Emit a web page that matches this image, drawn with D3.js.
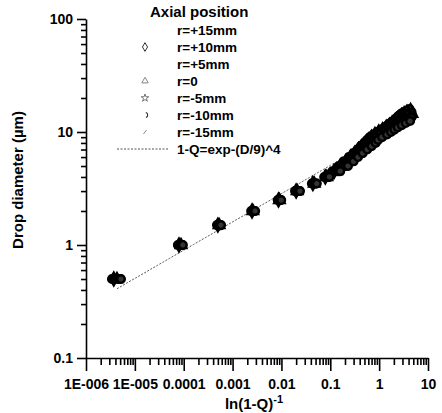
<!DOCTYPE html>
<html>
<head>
<meta charset="utf-8">
<script src="https://cdn.jsdelivr.net/npm/d3@7"></script>
<style>
    body { margin: 0; background: #fff; }
    text { font-family: Arial, "Liberation Sans", Helvetica, sans-serif; font-weight: bold; fill: #000; }
</style>
</head>
<body>
<div id="chart"></div>
<script>
// Drop diameter classes (um)
var sizeD = [0.5, 1, 1.5, 2, 2.5, 3, 3.5, 4, 4.5, 5, 5.5, 6, 6.5, 7, 7.5, 8, 8.5, 9, 9.5, 10,
             10.5, 11, 11.5, 12, 12.5, 13, 13.5, 14, 14.5, 15, 15.5, 16];

// ln(1-Q)^-1 for each radial position
var rP15 = [3.4e-6, 7.6e-5, 4.8e-4, 2.4e-3, 8.4e-3, 0.019, 0.042, 0.075,
            0.11, 0.15, 0.19, 0.24, 0.30, 0.36, 0.42, 0.49, 0.56, 0.64, 0.76, 0.92,
            1.1, 1.3, 1.5, 1.7, 1.95, 2.15, 2.35, 2.55, 2.8, 3.2, 3.7, 4.2];
var rP10 = [3.7e-6, 8.0e-5, 5.0e-4, 2.5e-3, 8.7e-3, 0.020, 0.044, 0.079,
            0.12, 0.16, 0.21, 0.26, 0.32, 0.38, 0.45, 0.53, 0.61, 0.70, 0.82, 0.98,
            1.18, 1.4, 1.62, 1.85, 2.1, 2.35, 2.6, 2.9, 3.25, 3.7, 4.4];
var rP5  = [4.0e-6, 8.4e-5, 5.1e-4, 2.6e-3, 8.9e-3, 0.021, 0.046, 0.082,
            0.13, 0.175, 0.225, 0.28, 0.34, 0.41, 0.49, 0.57, 0.66, 0.77, 0.90, 1.06,
            1.28, 1.52, 1.76, 2.0, 2.3, 2.6, 2.95, 3.35, 3.9, 4.6];
var r0   = [4.3e-6, 8.8e-5, 5.3e-4, 2.6e-3, 9.1e-3, 0.021, 0.047, 0.085,
            0.135, 0.185, 0.24, 0.30, 0.37, 0.44, 0.52, 0.61, 0.71, 0.83, 0.97, 1.15,
            1.4, 1.65, 1.92, 2.2, 2.55, 2.9, 3.3, 3.9, 4.7];
var rM5  = [4.6e-6, 9.0e-5, 5.4e-4, 2.7e-3, 9.3e-3, 0.022, 0.049, 0.088,
            0.14, 0.195, 0.255, 0.32, 0.39, 0.47, 0.56, 0.66, 0.77, 0.90, 1.06, 1.28,
            1.55, 1.85, 2.15, 2.5, 2.9, 3.35, 3.95, 4.8];
var rM10 = [4.9e-6, 9.3e-5, 5.6e-4, 2.8e-3, 9.6e-3, 0.023, 0.051, 0.092,
            0.15, 0.21, 0.275, 0.345, 0.42, 0.51, 0.62, 0.74, 0.86, 1.02, 1.25, 1.5,
            1.8, 2.1, 2.45, 2.85, 3.3, 3.9, 4.6];
var rM15 = [5.2e-6, 9.6e-5, 5.8e-4, 2.9e-3, 9.9e-3, 0.024, 0.053, 0.096,
            0.16, 0.23, 0.30, 0.37, 0.46, 0.57, 0.70, 0.85, 0.95, 1.15, 1.45, 1.75,
            2.05, 2.4, 2.9, 3.5, 4.3];

var seriesNames = ["r=+15mm", "r=+10mm", "r=+5mm", "r=0", "r=-5mm", "r=-10mm", "r=-15mm"];
var seriesX = [rP15, rP10, rP5, r0, rM5, rM10, rM15];
var fitLabel = "1-Q=exp-(D/9)^4";
var fitD = [0.41, 13.4];   // extent of the fitted line, D in um

var xMajor = [1e-6, 1e-5, 1e-4, 1e-3, 1e-2, 1e-1, 1, 10];
var xTickLabels = ["1E-006", "1E-005", "0.0001", "0.001", "0.01", "0.1", "1", "10"];
var yMajor = [0.1, 1, 10, 100];
var yTickLabels = ["0.1", "1", "10", "100"];

// Basic size information
var width = 442, height = 413;

var x = d3.scaleLog().domain([1e-6, 10]).range([86, 428]);
var y = d3.scaleLog().domain([0.1, 100]).range([358, 19]);

var svg = d3.select("#chart").append("svg")
    .attr("width", width)
    .attr("height", height);

// minor tick values for log axes
function minors(domain) {
    var out = [];
    for (var e = Math.round(Math.log10(domain[0])); e < Math.round(Math.log10(domain[1])); e++) {
        for (var k = 2; k <= 9; k++) out.push(k * Math.pow(10, e));
    }
    return out;
}

// x axis
svg.append("g")
    .attr("transform", "translate(0,358)")
    .call(d3.axisBottom(x).tickValues(minors(x.domain())).tickSize(7).tickSizeOuter(0).tickFormat(""))
    .call(function (g) { g.select(".domain").remove(); });
var gx = svg.append("g")
    .attr("transform", "translate(0,358)")
    .call(d3.axisBottom(x).tickValues(xMajor).tickSize(13).tickSizeOuter(0).tickPadding(8)
        .tickFormat(function (d, i) { return xTickLabels[i]; }));
gx.selectAll("text").attr("font-size", 14).attr("font-family", null);

// y axis
svg.append("g")
    .attr("transform", "translate(86,0)")
    .call(d3.axisLeft(y).tickValues(minors(y.domain())).tickSize(5).tickSizeOuter(0).tickFormat(""))
    .call(function (g) { g.select(".domain").remove(); });
var gy = svg.append("g")
    .attr("transform", "translate(86,0)")
    .call(d3.axisLeft(y).tickValues(yMajor).tickSize(9).tickSizeOuter(0).tickPadding(4)
        .tickFormat(function (d, i) { return yTickLabels[i]; }));
gy.selectAll("text").attr("font-size", 14).attr("font-family", null);

svg.selectAll(".domain, .tick line").attr("stroke", "#000").attr("stroke-width", 1.6);

// Axis titles
var xt = svg.append("text")
    .attr("x", 254).attr("y", 409)
    .attr("text-anchor", "middle")
    .attr("font-size", 15);
xt.append("tspan").text("ln(1-Q)");
xt.append("tspan").attr("dy", -6).attr("font-size", 11).text("-1");

svg.append("text")
    .attr("transform", "translate(23,180) rotate(-90)")
    .attr("text-anchor", "middle")
    .attr("font-size", 15)
    .text("Drop diameter (\u00b5m)");

// Fitted line  1-Q = exp(-(D/9)^4)  ->  ln(1-Q)^-1 = (D/9)^4
var fitLine = d3.line()
    .x(function (d) { return x(Math.pow(d / 9, 4)); })
    .y(function (d) { return y(d); });
svg.append("path")
    .datum(d3.range(fitD[0], fitD[1], 0.05).concat([fitD[1]]))
    .attr("d", fitLine)
    .attr("fill", "none")
    .attr("stroke", "#555")
    .attr("stroke-width", 1)
    .attr("stroke-dasharray", "2,1.5");

// Data points: heavy outlined symbols that merge into dark blobs
var plotSymbols = [d3.symbolCircle, d3.symbolDiamond, d3.symbolCircle, d3.symbolTriangle,
                   d3.symbolCircle, d3.symbolCircle, d3.symbolCircle];
var plotFill = ["#111", "#fff", "#222", "#fff", "#fff", "#111", "#333"];
seriesX.forEach(function (xs, s) {
    svg.append("g").selectAll("path")
        .data(xs.map(function (v, i) { return [v, sizeD[i]]; }))
        .enter().append("path")
        .attr("transform", function (d) { return "translate(" + x(d[0]) + "," + y(d[1]) + ")"; })
        .attr("d", d3.symbol().type(plotSymbols[s]).size(46))
        .attr("fill", plotFill[s])
        .attr("stroke", "#000")
        .attr("stroke-width", 2.4);
});

// Legend
var legend = svg.append("g");
legend.append("text")
    .attr("x", 150).attr("y", 17)
    .attr("font-size", 15)
    .text("Axial position");

var rowY = function (i) { return 30 + i * 17; };
seriesNames.forEach(function (name, i) {
    legend.append("text")
        .attr("x", 177).attr("y", rowY(i) + 5)
        .attr("font-size", 13.5)
        .text(name);
});
legend.append("text")
    .attr("x", 177).attr("y", rowY(7) + 5)
    .attr("font-size", 13.5)
    .text(fitLabel);

// faint legend glyphs as they appear in the scan
var mx = 145;
legend.append("path")
    .attr("transform", "translate(" + mx + "," + rowY(1) + ")")
    .attr("d", d3.symbol().type(d3.symbolDiamond).size(22))
    .attr("fill", "none").attr("stroke", "#333").attr("stroke-width", 1);
legend.append("path")
    .attr("transform", "translate(" + mx + "," + rowY(3) + ")")
    .attr("d", d3.symbol().type(d3.symbolTriangle).size(18))
    .attr("fill", "none").attr("stroke", "#777").attr("stroke-width", 0.9);
legend.append("path")
    .attr("transform", "translate(" + mx + "," + rowY(4) + ")")
    .attr("d", d3.symbol().type(d3.symbolStar).size(18))
    .attr("fill", "none").attr("stroke", "#666").attr("stroke-width", 0.9);
legend.append("path")
    .attr("transform", "translate(" + mx + "," + rowY(5) + ")")
    .attr("d", d3.arc()({innerRadius: 2.2, outerRadius: 3.2, startAngle: 0.3, endAngle: 2.8}))
    .attr("fill", "#222");
legend.append("line")
    .attr("x1", mx - 1.5).attr("y1", rowY(6) + 2)
    .attr("x2", mx + 1.5).attr("y2", rowY(6) - 2)
    .attr("stroke", "#888").attr("stroke-width", 1);
legend.append("line")
    .attr("x1", 117).attr("x2", 168)
    .attr("y1", rowY(7)).attr("y2", rowY(7))
    .attr("stroke", "#555").attr("stroke-width", 1)
    .attr("stroke-dasharray", "2,1.5");
</script>
</body>
</html>
